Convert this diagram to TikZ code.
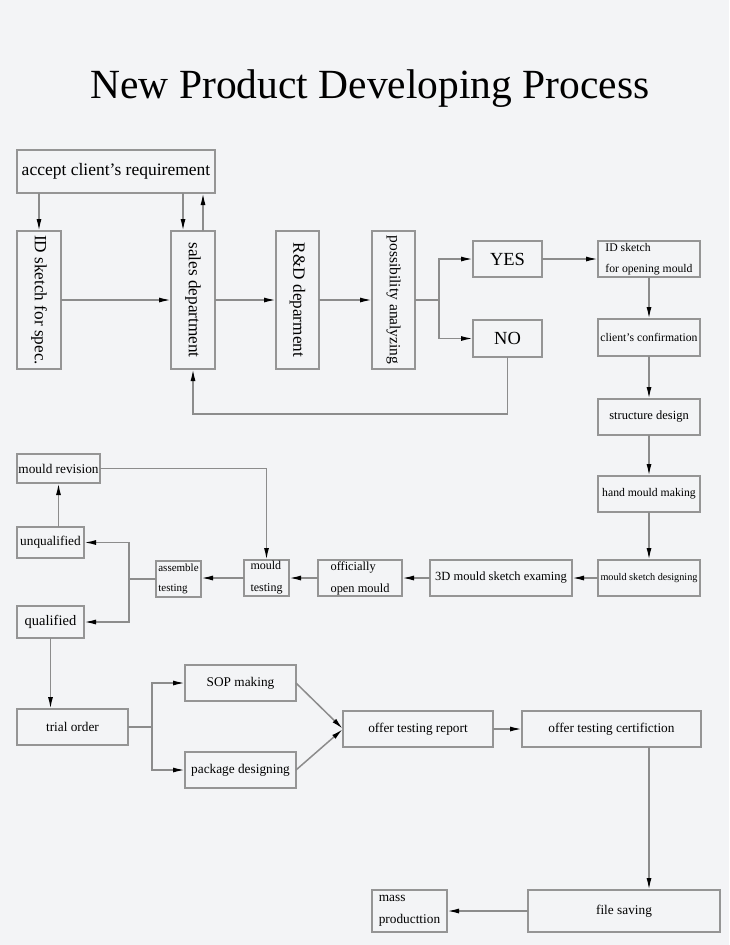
\documentclass[tikz,border=0pt]{standalone}
\usepackage{fontspec}
\setmainfont{Liberation Serif}
\usetikzlibrary{arrows.meta,calc}
\definecolor{bg}{HTML}{F3F4F6}
\definecolor{ln}{HTML}{8C8C8C}
\definecolor{bd}{HTML}{959595}
\tikzset{
  box/.style={draw=bd, line width=1.4pt, inner sep=0pt, outer sep=0pt, align=center, text=black},
  conn/.style={draw=ln, line width=1.5pt},
  arr/.style={conn, -{Latex[length=12pt,width=5pt,color=black]}},
  fT/.style={font=\fontsize{41.5}{48}\selectfont},
  fB/.style={font=\fontsize{17.5}{21}\selectfont},
  fV/.style={font=\fontsize{17.2}{21}\selectfont, rotate=-90},
  fVs/.style={font=\fontsize{15.5}{19}\selectfont, rotate=-90},
  fY/.style={font=\fontsize{18.5}{22}\selectfont},
  fM/.style={font=\fontsize{13.3}{22}\selectfont},
  fS/.style={font=\fontsize{11.7}{21}\selectfont},
  fSS/.style={font=\fontsize{10.2}{20}\selectfont},
}
\newcommand\bx[7]{\node[box,#6,minimum width={(#4-#2)*1pt},minimum height={(#5-#3)*1pt}] (#1) at ({(#2+#4)/2},{(#3+#5)/2}) {#7};}
\begin{document}
\begin{tikzpicture}[x=1pt,y=-1pt]
\fill[bg] (0,0) rectangle (729,945);
\useasboundingbox (0,0) rectangle (729,945);
\node[fT, anchor=base] (title) at (370,98) {New Product Developing Process};
% boxes
\bx{acc}{17}{150}{215}{193}{fB}{accept client’s requirement}
\bx{id}{17}{231}{61}{369}{}{}
\bx{sales}{171}{231}{215}{369}{}{}
\bx{rd}{276}{231}{319}{369}{}{}
\bx{poss}{372}{231}{415}{369}{}{}
\node[fV] (idt) at (id) {ID sketch for spec.};
\node[fV] (salest) at (sales) {sales department};
\node[fV] (rdt) at (rd) {R\&D deparment};
\node[fVs] (posst) at (poss) {possibility analyzing};
\bx{yes}{473}{241}{542}{277}{fY}{YES}
\bx{no}{473}{320}{542}{357}{fY}{NO}
\bx{ido}{598}{241}{700}{277}{fS,align=left}{ID sketch\\for opening mould}
\bx{conf}{598}{319}{700}{356}{fS}{client’s confirmation}
\bx{struct}{598}{399}{700}{435}{fS,font=\fontsize{12.5}{21}\selectfont}{structure design}
\bx{hand}{598}{476}{700}{512}{fS}{hand mould making}
\bx{msd}{598}{560}{700}{596}{fSS}{mould sketch designing}
\bx{exam}{430}{560}{572}{596}{font=\fontsize{12.5}{21}\selectfont}{3D mould sketch examing}
\bx{off}{318}{560}{402}{596}{font=\fontsize{12.4}{22}\selectfont,align=left}{officially\\open mould}
\bx{mt}{244}{560}{289}{596}{font=\fontsize{12}{22}\selectfont,align=left}{mould\\testing}
\bx{at}{156}{561}{201}{597}{font=\fontsize{11}{20}\selectfont,align=left}{assemble\\testing}
\bx{rev}{17}{454}{100}{483}{fM}{mould revision}
\bx{unq}{17}{527}{84}{558}{fM}{unqualified}
\bx{qual}{17}{606}{84}{638}{font=\fontsize{14.5}{20}\selectfont}{qualified}
\bx{trial}{17}{709}{128}{745}{fM}{trial order}
\bx{sop}{185}{665}{296}{701}{fM}{SOP making}
\bx{pkg}{185}{752}{296}{788}{fM}{package designing}
\bx{rep}{343}{711}{493}{747}{fM}{offer testing report}
\bx{cert}{522}{711}{701}{747}{fM}{offer testing certifiction}
\bx{file}{528}{890}{720}{932}{fM}{file saving}
\bx{mass}{372}{890}{447}{932}{fM,align=left}{mass\\producttion}
% connectors
\draw[arr] (acc.south -| id.north) -- (id.north);
\draw[arr] ([xshift=-10pt]sales.north |- acc.south) -- ([xshift=-10pt]sales.north);
\draw[arr] ([xshift=10pt]sales.north) -- ([xshift=10pt]sales.north |- acc.south);
\draw[arr] (id.east) -- (sales.west);
\draw[arr] (sales.east) -- (rd.west);
\draw[arr] (rd.east) -- (poss.west);
\coordinate (s1) at ($(poss.east)+(24,0)$);
\draw[conn] (poss.east) -- (s1);
\draw[arr] (s1) |- (yes.west);
\draw[arr] (s1) |- (no.west);
\draw[arr] (no.south) -- ++(0,57) -| (sales.south);
\draw[arr] (yes.east) -- (ido.west);
\draw[arr] (ido.south) -- (conf.north);
\draw[arr] (conf.south) -- (struct.north);
\draw[arr] (struct.south) -- (hand.north);
\draw[arr] (hand.south) -- (msd.north);
\draw[arr] (msd.west) -- (exam.east);
\draw[arr] (exam.west) -- (off.east);
\draw[arr] (off.west) -- (mt.east);
\draw[arr] (mt.west) -- (mt.west -| at.east);
\coordinate (s2) at ($(at.west)+(-27,0)$);
\draw[conn] (at.west) -- (s2);
\draw[arr] (s2) |- (unq.east);
\draw[arr] (s2) |- (qual.east);
\draw[arr] (rev.south |- unq.north) -- (rev.south);
\draw[arr] (rev.east) -| (mt.north);
\draw[arr] (qual.south) -- (qual.south |- trial.north);
\coordinate (s3) at ($(trial.east)+(24,0)$);
\draw[conn] (trial.east) -- (s3);
\draw[arr] (s3) |- (sop.west);
\draw[arr] (s3) |- (pkg.west);
\draw[arr] (sop.east) -- (rep.west);
\draw[arr] (pkg.east) -- (rep.west);
\draw[arr] (rep.east) -- (cert.west);
\draw[arr] ([xshift=37.5pt]cert.south) -- ([xshift=37.5pt]cert.south |- file.north);
\draw[arr] (file.west) -- (mass.east);
\end{tikzpicture}
\end{document}
